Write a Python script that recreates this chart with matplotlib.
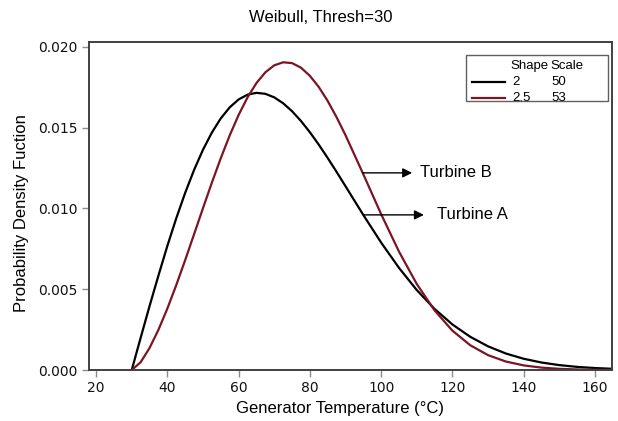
import matplotlib
matplotlib.use("Agg")
import matplotlib.pyplot as plt

# Weibull pdf values (threshold 30)
temp = [30, 32.5, 35, 37.5, 40, 42.5, 45, 47.5, 50, 52.5, 55, 57.5, 60,
        62.5, 65, 67.5, 70, 72.5, 75, 77.5, 80, 82.5, 85, 87.5, 90,
        95, 100, 105, 110, 115, 120, 125, 130, 135, 140, 145, 150,
        155, 160, 165]
turbine_a = [0.0, 0.001995, 0.003960, 0.005850, 0.007686, 0.009394, 0.010967,
             0.012386, 0.013634, 0.014700, 0.015576, 0.016257, 0.016744,
             0.017041, 0.017154, 0.017093, 0.016873, 0.016508, 0.016015,
             0.015411, 0.014715, 0.013946, 0.013121, 0.012258, 0.011373,
             0.009595, 0.007888, 0.006324, 0.004948, 0.003779, 0.002820,
             0.002056, 0.001465, 0.001021, 0.000696, 0.000464, 0.000303,
             0.000193, 0.000121, 0.000074]
turbine_b = [0.0, 0.000483, 0.001363, 0.002492, 0.003807, 0.005259, 0.006806,
             0.008406, 0.010019, 0.011602, 0.013116, 0.014522, 0.015785,
             0.016873, 0.017760, 0.018424, 0.018856, 0.019044, 0.018993,
             0.018710, 0.018208, 0.017514, 0.016648, 0.015643, 0.014530,
             0.012114, 0.009644, 0.007333, 0.005323, 0.003688, 0.002436,
             0.001534, 0.000920, 0.000525, 0.000285, 0.000147, 0.000072,
             0.000033, 0.000015, 0.000006]
shapes = ["2", "2.5"]
scales = ["50", "53"]
colors = ["#000000", "#7a1526"]

fig = plt.figure(figsize=(6.18, 4.21), dpi=100)
ax = fig.add_axes([89 / 618, 1 - 370 / 421, 523 / 618, 328 / 421])

ax.plot(temp, turbine_a, color=colors[0], lw=1.6, solid_joinstyle="round")
ax.plot(temp, turbine_b, color=colors[1], lw=1.6, solid_joinstyle="round")

ax.set_xlim(18, 164.8)
ax.set_ylim(0, 0.0203)
ax.set_xticks([20, 40, 60, 80, 100, 120, 140, 160])
ax.set_yticks([0.0, 0.005, 0.010, 0.015, 0.020])
ax.set_yticklabels(["0.000", "0.005", "0.010", "0.015", "0.020"])
ax.tick_params(direction="out", length=5, width=1, color="#8c8c8c",
               labelsize=10, labelcolor="#111111", pad=3)
for s in ax.spines.values():
    s.set_color("#404040")
    s.set_linewidth(1.4)

lab = "Liberation Sans"
fig.text(321 / 618, 1 - 18 / 421, "Weibull, Thresh=30", ha="center",
         va="center", fontsize=12, family=lab)
fig.text(340 / 618, 1 - 409 / 421, "Generator Temperature (°C)", ha="center",
         va="center", fontsize=12, family=lab)
fig.text(22 / 618, 1 - 213 / 421, "Probability Density Fuction", ha="center",
         va="center", rotation=90, fontsize=12, family=lab)

# arrows to the curves
ax.annotate("", xy=(108.7, 0.0122), xytext=(94.8, 0.0122),
            arrowprops=dict(arrowstyle="-|>", color="black", lw=1,
                            mutation_scale=14, shrinkA=0, shrinkB=0))
ax.text(110.9, 0.0122, "Turbine B", va="center", fontsize=12, family=lab)
ax.annotate("", xy=(112.0, 0.0096), xytext=(95.0, 0.0096),
            arrowprops=dict(arrowstyle="-|>", color="black", lw=1,
                            mutation_scale=14, shrinkA=0, shrinkB=0))
ax.text(115.7, 0.0096, "Turbine A", va="center", fontsize=12, family=lab)

# legend table
x0, x1 = (466 - 89) / 523, (608 - 89) / 523
y0, y1 = (370 - 101) / 328, (370 - 55) / 328
ax.add_patch(plt.Rectangle((x0, y0), x1 - x0, y1 - y0, transform=ax.transAxes,
                           fill=False, edgecolor="#606060", lw=1))
ax.text((510 - 89) / 523, (370 - 66) / 328, "Shape", transform=ax.transAxes,
        fontsize=9.5, va="center", family=lab)
ax.text((550 - 89) / 523, (370 - 66) / 328, "Scale", transform=ax.transAxes,
        fontsize=9.5, va="center", family=lab)
for i in range(2):
    yy = (370 - (82 + 16 * i)) / 328
    ax.plot([(472 - 89) / 523, (505 - 89) / 523], [yy, yy], color=colors[i],
            lw=1.6, transform=ax.transAxes)
    ax.text((512 - 89) / 523, yy, shapes[i], transform=ax.transAxes,
            fontsize=9.5, va="center", family=lab)
    ax.text((551 - 89) / 523, yy, scales[i], transform=ax.transAxes,
            fontsize=9.5, va="center", family=lab)

fig.savefig("out.png", dpi=100)
